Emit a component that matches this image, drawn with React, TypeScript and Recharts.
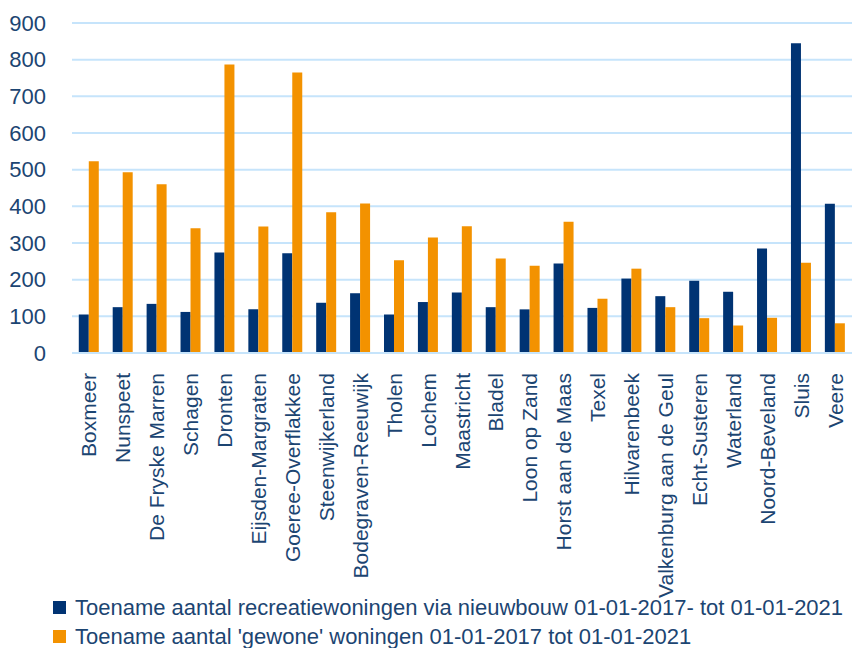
import { Bar, BarChart, CartesianGrid, XAxis, YAxis } from "recharts";

const gemeenten = [
  "Boxmeer", "Nunspeet", "De Fryske Marren", "Schagen", "Dronten",
  "Eijsden-Margraten", "Goeree-Overflakkee", "Steenwijkerland", "Bodegraven-Reeuwijk",
  "Tholen", "Lochem", "Maastricht", "Bladel", "Loon op Zand", "Horst aan de Maas",
  "Texel", "Hilvarenbeek", "Valkenburg aan de Geul", "Echt-Susteren", "Waterland",
  "Noord-Beveland", "Sluis", "Veere",
];
const recreatie = [
  105, 125, 134, 112, 274, 119, 272, 137, 163, 105, 139, 165, 125, 119, 244,
  123, 203, 155, 197, 167, 285, 845, 407,
];
const gewone = [
  523, 493, 460, 340, 787, 345, 765, 384, 408, 253, 315, 346, 258, 238, 358,
  148, 230, 125, 95, 75, 96, 246, 81,
];
const yTicks = [0, 100, 200, 300, 400, 500, 600, 700, 800, 900];

const NAVY = "#003373";
const ORANGE = "#f39200";
const TEXT = "#1c4572";
const FONT = "'Liberation Sans', Arial, sans-serif";

const data = gemeenten.map((g, i) => ({ name: g, recreatie: recreatie[i], gewone: gewone[i] }));

// schuine (verticale) labels onder de as
const CatTick = (props: any) => {
  const { x, y, payload } = props;
  return (
    <text
      x={x}
      y={y}
      transform={`rotate(-90, ${x}, ${y})`}
      textAnchor="end"
      dominantBaseline="central"
      fontSize={21}
      fontFamily={FONT}
      fill={TEXT}
    >
      {payload.value}
    </text>
  );
};

export default function App() {
  return (
    <div style={{ position: "absolute", left: 0, top: 0, width: 854, height: 648, background: "#fff", fontFamily: FONT }}>
      <BarChart
        width={854}
        height={648}
        data={data}
        margin={{ top: 23, right: 2, left: 0, bottom: 0 }}
        barCategoryGap="20%"
        barGap={0}
      >
        <CartesianGrid vertical={false} stroke="#c6e4fb" strokeWidth={2} />
        <XAxis
          dataKey="name"
          interval={0}
          height={295}
          tick={<CatTick />}
          tickLine={false}
          axisLine={{ stroke: "#c6e4fb", strokeWidth: 2 }}
          tickMargin={14}
        />
        <YAxis
          domain={[0, 900]}
          ticks={yTicks}
          width={72}
          tickLine={false}
          axisLine={false}
          tick={{ fontSize: 22, fill: TEXT, fontFamily: FONT }}
          tickMargin={20}
        />
        <Bar dataKey="recreatie" fill={NAVY} isAnimationActive={false} />
        <Bar dataKey="gewone" fill={ORANGE} isAnimationActive={false} />
      </BarChart>
      <div style={{ position: "absolute", left: 53, top: 593, fontSize: 22, color: TEXT, lineHeight: "29px", whiteSpace: "nowrap" }}>
        <div style={{ display: "flex", alignItems: "center" }}>
          <span style={{ width: 13, height: 13, background: NAVY, marginRight: 9, display: "inline-block" }} />
          Toename aantal recreatiewoningen via nieuwbouw 01-01-2017- tot 01-01-2021
        </div>
        <div style={{ display: "flex", alignItems: "center" }}>
          <span style={{ width: 13, height: 13, background: ORANGE, marginRight: 9, display: "inline-block" }} />
          Toename aantal 'gewone' woningen 01-01-2017 tot 01-01-2021
        </div>
      </div>
    </div>
  );
}
